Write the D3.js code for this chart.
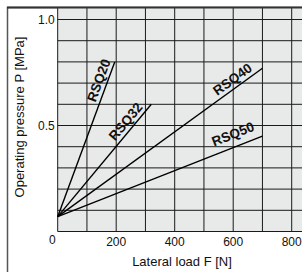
<!DOCTYPE html>
<html>
<head>
<meta charset="utf-8">
<script src="https://cdn.jsdelivr.net/npm/d3@7/dist/d3.min.js"></script>
<style>
body { margin: 0; background: #fff; }
svg { display: block; }
text { font-family: "Liberation Sans", Arial, sans-serif; fill: #111; }
</style>
</head>
<body>
<svg id="graph" width="302" height="272"></svg>
<script>
// series: each line goes from start to end point
var series = ["RSQ20", "RSQ32", "RSQ40", "RSQ50"];
var startLoad = [0, 0, 0, 0];
var startPressure = [0.07, 0.07, 0.07, 0.07];
var endLoad = [195, 320, 700, 700];
var endPressure = [0.8, 0.6, 0.77, 0.45];
var labelLoad = [168, 255, 615, 615];   // where along the line the name sits
var labelGap = [4, 4, 4, 8];            // px above the line

var xTicks = [200, 400, 600, 800];
var xGrid = [0, 100, 200, 300, 400, 500, 600, 700, 800];
var yTicks = [0.5, 1.0];
var yGrid = [0, 0.1, 0.2, 0.3, 0.4, 0.5, 0.6, 0.7, 0.8, 0.9, 1.0];

var svg = d3.select("#graph");

var x = d3.scaleLinear().domain([0, 800]).range([57.7, 291.7]);
var y = d3.scaleLinear().domain([0, 1]).range([231.5, 19.5]);

var xMax = 860, yMax = 1.056;

// outer frame
svg.append("path")
    .attr("d", "M7.5,272V7.5H302")
    .attr("fill", "none")
    .attr("stroke", "#555")
    .attr("stroke-width", 1.5);

// plot background
svg.append("rect")
    .attr("x", x(0))
    .attr("y", y(yMax))
    .attr("width", x(xMax) - x(0))
    .attr("height", y(0) - y(yMax))
    .attr("fill", "#e8e9e9");

// grid
svg.selectAll(".vgrid")
    .data(xGrid)
    .enter()
    .append("line")
    .attr("x1", function(d) {return x(d);})
    .attr("x2", function(d) {return x(d);})
    .attr("y1", y(0))
    .attr("y2", y(yMax))
    .attr("stroke", "#1a1a1a")
    .attr("stroke-width", 1);

svg.selectAll(".hgrid")
    .data(yGrid)
    .enter()
    .append("line")
    .attr("x1", x(0))
    .attr("x2", x(xMax))
    .attr("y1", function(d) {return y(d);})
    .attr("y2", function(d) {return y(d);})
    .attr("stroke", "#1a1a1a")
    .attr("stroke-width", 1);

// top edge over the frame
svg.append("line")
    .attr("x1", 7).attr("x2", 302)
    .attr("y1", 7.5).attr("y2", 7.5)
    .attr("stroke", "#333").attr("stroke-width", 2);

// tick labels
svg.selectAll(".xt")
    .data(xTicks)
    .enter()
    .append("text")
    .attr("x", function(d) {return x(d);})
    .attr("y", y(0) + 14)
    .attr("text-anchor", "middle")
    .attr("font-size", 12)
    .text(function(d) {return d;});

svg.selectAll(".yt")
    .data(yTicks)
    .enter()
    .append("text")
    .attr("x", x(0) - 3)
    .attr("y", function(d) {return y(d) + 4;})
    .attr("text-anchor", "end")
    .attr("font-size", 12)
    .text(function(d) {return d3.format(".1f")(d);});

svg.append("text")
    .attr("x", x(0) - 2)
    .attr("y", y(0) + 12)
    .attr("text-anchor", "end")
    .attr("font-size", 12)
    .text("0");

// axis titles
svg.append("text")
    .attr("x", 182)
    .attr("y", 266)
    .attr("text-anchor", "middle")
    .attr("font-size", 13)
    .text("Lateral load F [N]");

svg.append("text")
    .attr("transform", "translate(24,117) rotate(-90)")
    .attr("text-anchor", "middle")
    .attr("font-size", 13)
    .text("Operating pressure P [MPa]");

// lines
var idx = d3.range(series.length);

svg.selectAll(".series")
    .data(idx)
    .enter()
    .append("line")
    .attr("x1", function(i) {return x(startLoad[i]);})
    .attr("y1", function(i) {return y(startPressure[i]);})
    .attr("x2", function(i) {return x(endLoad[i]);})
    .attr("y2", function(i) {return y(endPressure[i]);})
    .attr("stroke", "#000")
    .attr("stroke-width", 1.4);

// labels along each line
svg.selectAll(".lbl")
    .data(idx)
    .enter()
    .append("text")
    .attr("transform", function(i) {
        var x0 = x(startLoad[i]), y0 = y(startPressure[i]);
        var x1 = x(endLoad[i]), y1 = y(endPressure[i]);
        var t = (labelLoad[i] - startLoad[i]) / (endLoad[i] - startLoad[i]);
        var px = x0 + t * (x1 - x0), py = y0 + t * (y1 - y0);
        var a = Math.atan2(y1 - y0, x1 - x0) * 180 / Math.PI;
        return "translate(" + px + "," + py + ") rotate(" + a + ")";
    })
    .attr("y", function(i) {return -labelGap[i];})
    .attr("text-anchor", "middle")
    .attr("font-size", 13.5)
    .attr("font-weight", "bold")
    .text(function(i) {return series[i];});
</script>
</body>
</html>
